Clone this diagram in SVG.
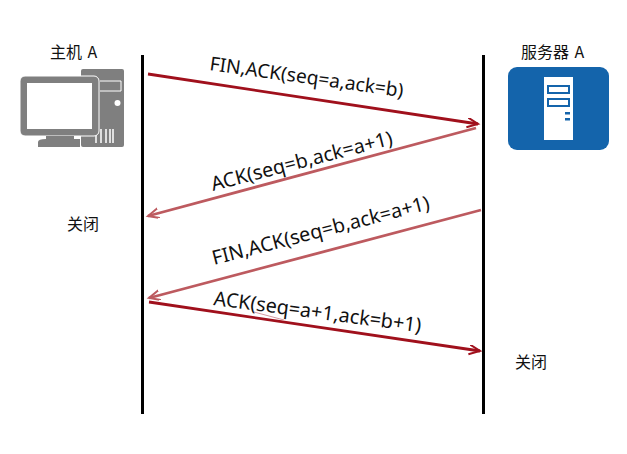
<svg xmlns="http://www.w3.org/2000/svg" width="627" height="454" viewBox="0 0 627 454">
<defs>
<marker id="d" markerUnits="userSpaceOnUse" markerWidth="14" markerHeight="12" refX="11" refY="5" orient="auto"><path d="M0 0L11 5L0 10" fill="none" stroke="#a0101c" stroke-width="2"/></marker>
<marker id="l" markerUnits="userSpaceOnUse" markerWidth="14" markerHeight="12" refX="11" refY="5" orient="auto"><path d="M0 0L11 5L0 10" fill="none" stroke="#bd5a5f" stroke-width="2"/></marker>
</defs>
<style>
text{font-family:"Noto Sans","Noto Sans CJK SC",sans-serif;fill:#111}
.c{font-family:"Noto Sans CJK SC","Noto Sans",sans-serif;font-size:16px;word-spacing:2px}
.m{font-size:19.800px}
.dk{stroke:#a0101c;stroke-width:2.800;fill:none;marker-end:url(#d)}
.lt{stroke:#bd5a5f;stroke-width:2.800;fill:none;marker-end:url(#l)}
</style>
<rect width="627" height="454" fill="#fff"/>
<g id="lifelines" stroke="#000" stroke-width="3"><path d="M142.500 55V414"/><path d="M483.500 55V414"/></g>
<g id="connectors">
<path class="dk" d="M148 74L478 124"/>
<path class="lt" d="M476 128L148 216"/>
<path class="lt" d="M481 210L149 298"/>
<path class="dk" d="M149 302L480 351"/>
<path d="M254 312L284 320" stroke="#d49aa0" stroke-width="1" fill="none"/>
</g>
<g id="host">
<text class="c" x="50" y="58">主机 A</text>
<rect x="81" y="69" width="43" height="78" rx="2" fill="#7f7f7f"/>
<path d="M100 81H121V91H100" fill="none" stroke="#fff" stroke-width="1"/>
<circle cx="117.500" cy="103" r="3" fill="#fff"/>
<path d="M96 129V143M101 129V143M106 129V143M110 129V143M113 129V143" stroke="#fff" stroke-width="1.500"/>
<rect x="20" y="76" width="79" height="60" rx="5" fill="#7f7f7f" stroke="#fff" stroke-width="1"/>
<rect x="27" y="83" width="65" height="46" fill="#fff"/>
<path d="M46 136H74V139H80V147H38V142Q38 139 46 139Z" fill="#7f7f7f"/>
</g>
<g id="server">
<text class="c" x="521" y="58">服务器 A</text>
<rect x="508" y="67" width="101" height="83" rx="9" fill="#1464ab"/>
<rect x="544" y="77" width="29" height="63" fill="#fff"/>
<rect x="548" y="86" width="21" height="7" fill="none" stroke="#1464ab" stroke-width="2"/>
<rect x="548" y="99" width="21" height="7" fill="none" stroke="#1464ab" stroke-width="2"/>
<rect x="565" y="112" width="5" height="2.500" fill="#1464ab"/>
<rect x="565" y="118" width="5" height="2.500" fill="#1464ab"/>
</g>
<g id="labels">
<text class="m" style="font-size:19.200px" transform="translate(209 70) rotate(8)">FIN,ACK(seq=a,ack=b)</text>
<text class="m" transform="translate(213 191) rotate(-14.500)">ACK(seq=b,ack=a+1)</text>
<text class="m" transform="translate(214 265) rotate(-14.500)">FIN,ACK(seq=b,ack=a+1)</text>
<text class="m" transform="translate(213 305) rotate(7.500)">ACK(seq=a+1,ack=b+1)</text>
<text class="c" x="67" y="230">关闭</text>
<text class="c" x="515" y="368">关闭</text>
</g>
</svg>
